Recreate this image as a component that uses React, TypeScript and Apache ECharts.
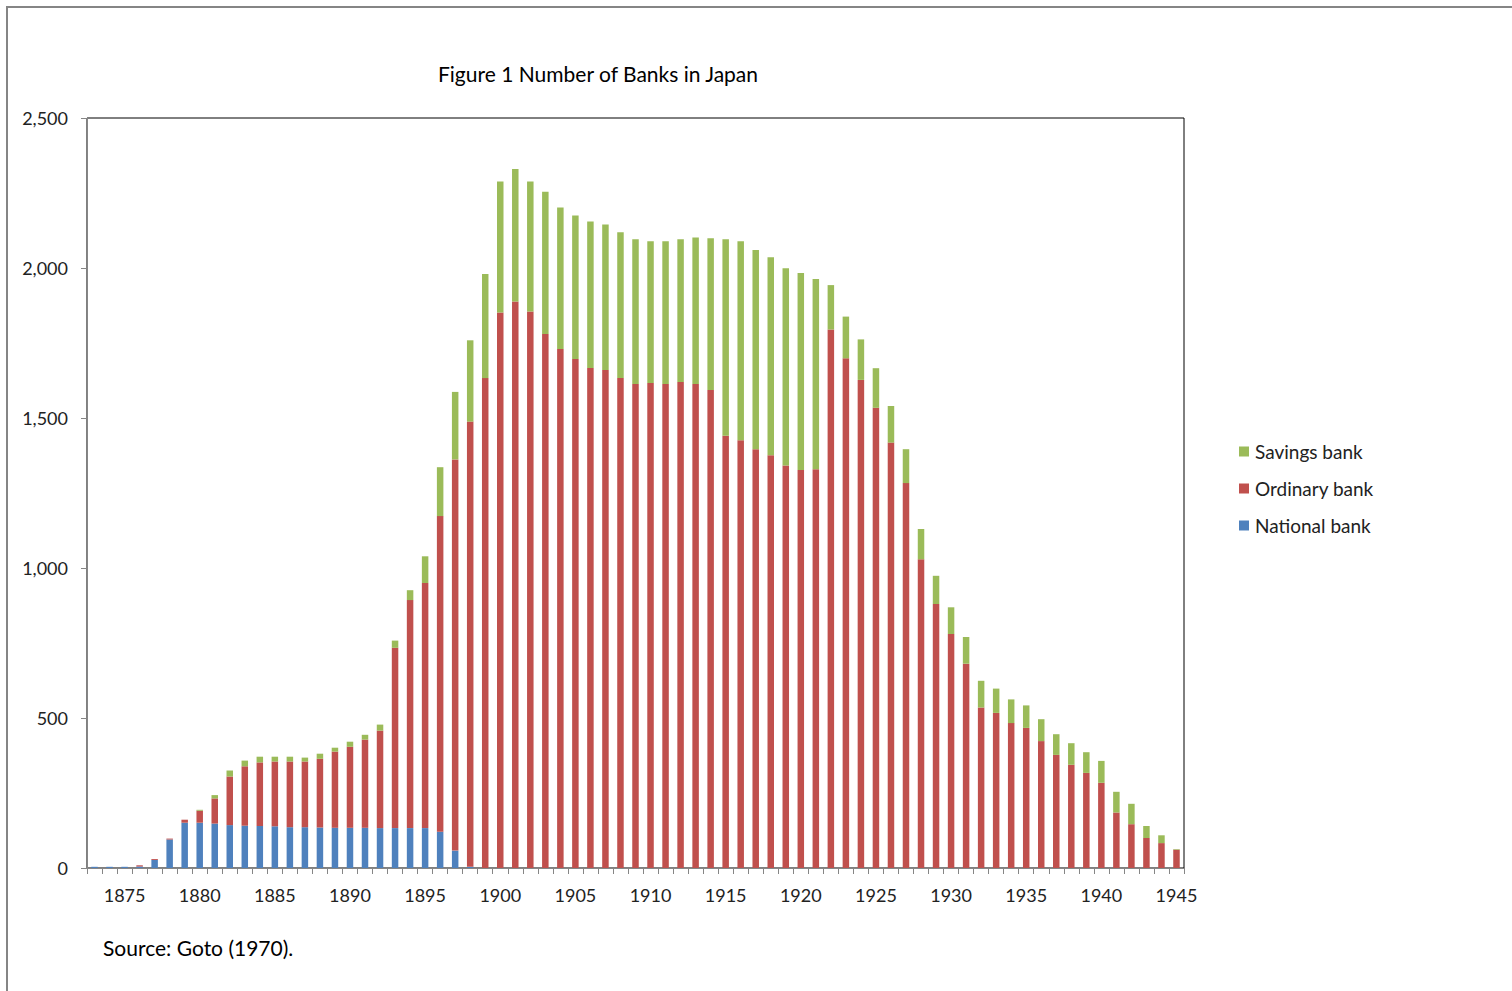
import React, { useEffect, useRef } from "react";
import * as echarts from "echarts";

const years: string[] = [];
for (let y = 1873; y <= 1945; y++) years.push(String(y));

const nationalBank = [
  4, 4, 4, 5, 27, 95, 151, 151, 148, 143,
  141, 140, 139, 136, 136, 135, 134, 134, 134, 133,
  133, 133, 133, 121, 58, 4, 0, 0, 0, 0,
  0, 0, 0, 0, 0, 0, 0, 0, 0, 0,
  0, 0, 0, 0, 0, 0, 0, 0, 0, 0,
  0, 0, 0, 0, 0, 0, 0, 0, 0, 0,
  0, 0, 0, 0, 0, 0, 0, 0, 0, 0,
  0, 0, 0,
];

const ordinaryBank = [
  0, 0, 0, 4, 3, 3, 10, 40, 84, 162,
  198, 212, 216, 219, 219, 229, 254, 270, 294, 325,
  601, 760, 817, 1052, 1304, 1484, 1633, 1852, 1888, 1855,
  1780, 1730, 1697, 1667, 1660, 1633, 1613, 1617, 1613, 1620,
  1613, 1593, 1441, 1426, 1396, 1376, 1342, 1327, 1329, 1795,
  1699, 1627, 1534, 1418, 1283, 1029, 880, 780, 681, 535,
  517, 483, 467, 423, 377, 344, 317, 284, 185, 146,
  100, 83, 61,
];

const savingsBank = [
  0, 0, 0, 0, 0, 0, 0, 3, 11, 20,
  19, 19, 16, 16, 13, 17, 13, 17, 16, 20,
  24, 33, 89, 163, 225, 271, 347, 436, 442, 433,
  474, 472, 478, 488, 485, 486, 483, 472, 476, 476,
  489, 506, 655, 663, 664, 660, 657, 656, 634, 148,
  139, 135, 132, 122, 113, 101, 94, 89, 89, 89,
  81, 79, 75, 73, 69, 72, 69, 73, 69, 68,
  40, 26, 2,
];

const yTicks = { min: 0, max: 2500, interval: 500 };

const FONT = "Lato, 'Open Sans', sans-serif";
const TXT = "#222";

export default function App() {
  const ref = useRef<HTMLDivElement>(null);
  useEffect(() => {
    if (!ref.current) return;
    const chart = echarts.init(ref.current, null, { renderer: "svg" });
    const barW = 6.5;
    chart.setOption({
      animation: false,
      backgroundColor: "#fff",
      textStyle: { fontFamily: FONT },
      graphic: [
        {
          type: "rect",
          shape: { x: 7, y: 7, width: 1530, height: 1010 },
          style: { fill: "none", stroke: "#858585", lineWidth: 2 },
          silent: true,
        },
        {
          type: "text",
          x: 598,
          y: 73,
          style: {
            text: "Figure 1 Number of Banks in Japan",
            fontFamily: FONT,
            fontSize: 21,
            fill: "#000",
            align: "center",
            verticalAlign: "middle",
          },
        },
        {
          type: "text",
          x: 103,
          y: 947,
          style: {
            text: "Source: Goto (1970).",
            fontFamily: FONT,
            fontSize: 21,
            fill: "#000",
            align: "left",
            verticalAlign: "middle",
          },
        },
      ],
      legend: {
        orient: "vertical",
        left: 1234,
        top: 437,
        itemWidth: 10,
        itemHeight: 10,
        itemGap: 18,
        icon: "rect",
        data: ["Savings bank", "Ordinary bank", "National bank"],
        textStyle: { fontFamily: FONT, fontSize: 19, color: TXT, padding: [0, 0, 0, 1] },
      },
      grid: {
        left: 87,
        top: 118,
        right: 328,
        bottom: 123,
        show: true,
        borderColor: "#000",
        borderWidth: 1,
        backgroundColor: "transparent",
      },
      xAxis: {
        type: "category",
        data: years,
        boundaryGap: true,
        axisLine: { lineStyle: { color: "#868686", width: 1 } },
        axisTick: { show: true, interval: 0, length: 6, lineStyle: { color: "#868686" } },
        axisLabel: {
          interval: (_i: number, v: string) => Number(v) % 5 === 0,
          fontFamily: FONT,
          fontSize: 18,
          color: TXT,
          margin: 18,
        },
        splitLine: { show: false },
      },
      yAxis: {
        type: "value",
        min: yTicks.min,
        max: yTicks.max,
        interval: yTicks.interval,
        axisLine: { show: true, lineStyle: { color: "#868686", width: 1 } },
        axisTick: { show: true, length: 6, lineStyle: { color: "#868686" } },
        axisLabel: {
          fontFamily: FONT,
          fontSize: 18,
          color: TXT,
          margin: 19,
          formatter: (v: number) => v.toLocaleString("en-US"),
        },
        splitLine: { show: false },
      },
      series: [
        {
          name: "National bank",
          type: "bar",
          stack: "banks",
          barWidth: barW,
          data: nationalBank,
          itemStyle: { color: "#4F81BD" },
        },
        {
          name: "Ordinary bank",
          type: "bar",
          stack: "banks",
          barWidth: barW,
          data: ordinaryBank,
          itemStyle: { color: "#C0504D" },
        },
        {
          name: "Savings bank",
          type: "bar",
          stack: "banks",
          barWidth: barW,
          data: savingsBank,
          itemStyle: { color: "#9BBB59" },
        },
      ],
    });
    return () => chart.dispose();
  }, []);
  return (
    <div
      ref={ref}
      style={{ position: "absolute", left: 0, top: 0, width: 1512, height: 991 }}
    />
  );
}
